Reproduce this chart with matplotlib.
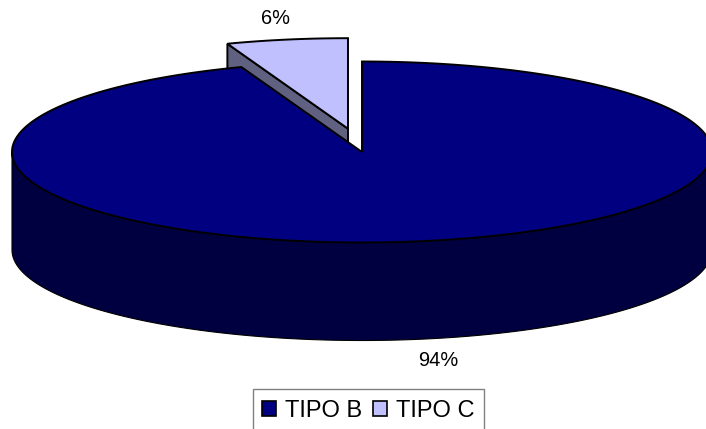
import numpy as np
import matplotlib
matplotlib.use("Agg")
import matplotlib.pyplot as plt
from matplotlib.patches import Polygon, Patch, Rectangle

categories = ["TIPO B", "TIPO C"]
values = [94.4, 5.6]
labels = ["94%", "6%"]
top_colors = ["#000080", "#C0C0FF"]
wall_colors = ["#000040", "#606080"]

plt.rcParams["font.family"] = ["Liberation Sans", "DejaVu Sans"]
fig = plt.figure(figsize=(7.06, 4.29), dpi=100)
ax = fig.add_axes([0, 0, 1, 1])
ax.set_xlim(0, 706)
ax.set_ylim(429, 0)
ax.axis("off")

RX, RY, DEPTH = 350, 90.5, 98
CB = (362, 152)
CC = (348, 128.7)
LW = 1.4
frac_c = values[1] / sum(values)
sweep_c = 2 * np.pi * frac_c

def pt(c, t):
    return np.column_stack([c[0] + RX * np.sin(t), c[1] - RY * np.cos(t)])

# exploded slice C: radial wall, then top
tc = np.linspace(-sweep_c, 0, 40)
edge = pt(CC, tc)
wall = np.vstack([[edge[0]], [CC], [CC[0], CC[1] + DEPTH], [edge[0][0], edge[0][1] + DEPTH]])
ax.add_patch(Polygon(wall, closed=True, fc=wall_colors[1], ec="black", lw=LW, zorder=1))
ax.add_patch(Polygon(np.vstack([[CC], edge]), closed=True, fc=top_colors[1], ec="black", lw=LW, zorder=2))

# main slice B: outer wall, then top
tb = np.linspace(0, 2 * np.pi - sweep_c, 400)
rim = pt(CB, tb)
tf = np.linspace(np.pi / 2, 3 * np.pi / 2, 200)
f = pt(CB, tf)
ax.add_patch(Polygon(np.vstack([f, (f + [0, DEPTH])[::-1]]), closed=True,
                     fc=wall_colors[0], ec="black", lw=0.8, zorder=3))
ax.add_patch(Polygon(np.vstack([[CB], rim]), closed=True, fc=top_colors[0], ec="black", lw=LW, zorder=4))

ax.text(438, 360, labels[0], ha="center", va="center", fontsize=14.4, color="black")
ax.text(275, 19, labels[1], ha="center", va="center", fontsize=14.4, color="black")

# legend: box runs off the bottom of the figure
ax.add_patch(Rectangle((253, 389), 231, 50, fc="white", ec="#808080", lw=1.0, zorder=5))
handles = [Patch(fc=c, ec="black", lw=1.2) for c in top_colors]
leg = ax.legend(handles, categories, ncols=2, loc="upper left",
                bbox_to_anchor=(262 / 706, 1 - 400 / 429),
                fontsize=17.05, frameon=False,
                handlelength=0.59, handleheight=0.6, handletextpad=0.38, columnspacing=0.46,
                borderpad=0, borderaxespad=0, labelspacing=0)
leg.set_zorder(6)
fig.savefig("out.png", dpi=100)
